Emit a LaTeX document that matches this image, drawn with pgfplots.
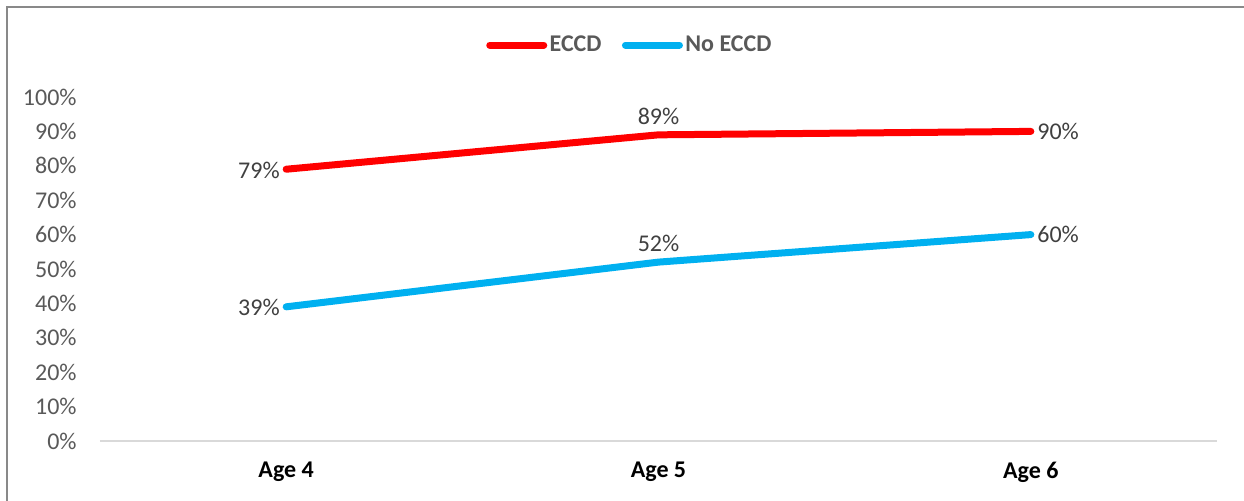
\documentclass[border=0pt]{standalone}
\usepackage{pgfplots}
\pgfplotsset{compat=1.18}
\usepackage{fontspec}
\setmainfont{Carlito}
\definecolor{eccdred}{HTML}{FF0000}
\definecolor{noblue}{HTML}{00B0F0}
\definecolor{ticktext}{HTML}{595959}
\definecolor{labeltext}{HTML}{404040}
\definecolor{axisgray}{HTML}{D9D9D9}
\definecolor{framegray}{HTML}{898989}
\begin{document}
\fontsize{12}{14}\selectfont
\begin{tikzpicture}[x=1pt,y=1pt]
\useasboundingbox (-50,-30) rectangle (572,220.5);
\draw[framegray, line width=1pt] (-46.5,-30) -- (-46.5,217) -- (572,217);
\begin{axis}[
 at={(0,0)}, anchor=south west,
 scale only axis, width=558.5pt, height=172pt,
 xmin=-0.5, xmax=2.5, ymin=0, ymax=100,
 axis lines=left,
 x axis line style={-, draw=axisgray, line width=1pt},
 y axis line style={draw=none},
 major tick length=0pt,
 xtick={0,1,2}, xticklabels={Age 4,Age 5,Age 6},
 ytick={0,10,...,100},
 yticklabel={\pgfmathprintnumber{\tick}\%},
 /pgf/number format/assume math mode=true,
 yticklabel style={text=ticktext, font=\fontsize{12}{14}\selectfont, xshift=-7.5pt},
 xticklabel style={font=\fontsize{12}{14}\selectfont\bfseries, text=black, yshift=-6.5pt},
 legend style={at={(0.4745,1.151)}, anchor=center, draw=none, fill=none,
   legend columns=2, font=\fontsize{12}{14}\selectfont\bfseries, text=ticktext,
   nodes={inner sep=1.2pt},
   /tikz/every even column/.append style={column sep=9pt}},
 legend image code/.code={\draw[#1, line cap=round] (0pt,0pt) -- (27pt,0pt);},
 clip=false,
 labelled/.style={
  point meta=y,
  nodes near coords={\pgfmathprintnumber{\pgfplotspointmeta}\%},
  visualization depends on={value \coordindex \as \myidx},
  every node near coord/.append style={text=labeltext, font=\fontsize{12}{14}\selectfont,
     inner sep=1.5pt, anchor={\ifcase\myidx\space east\or south\or west\fi},
     yshift={\ifcase\myidx\space -0.5pt\or 2pt\or 0pt\fi}}},
]
\addplot[eccdred, line width=3.5pt, line cap=round, line join=round, labelled]
  coordinates {(0,79) (1,89) (2,90)};
\addlegendentry{ECCD}
\addplot[noblue, line width=3.5pt, line cap=round, line join=round, labelled]
  coordinates {(0,39) (1,52) (2,60)};
\addlegendentry{No ECCD}
\end{axis}
\end{tikzpicture}
\end{document}
